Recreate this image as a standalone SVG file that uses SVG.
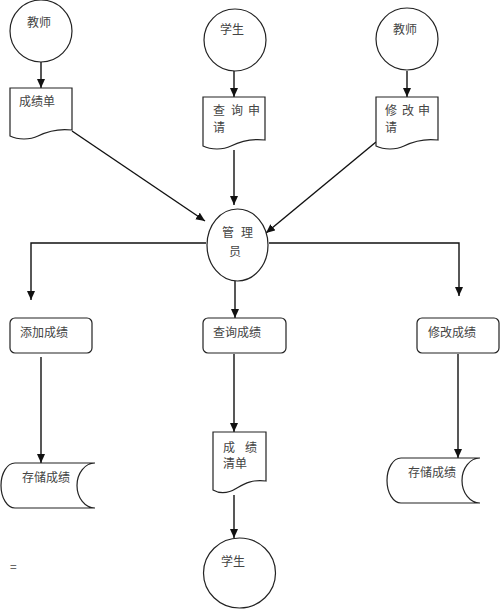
<svg xmlns="http://www.w3.org/2000/svg" width="500" height="610" viewBox="0 0 500 610">
<style>
.s{fill:#fff;stroke:#222;stroke-width:1.2}
.c{fill:none;stroke:#111;stroke-width:1.4}
text{font-family:"Noto Sans CJK SC","Liberation Serif",serif;font-size:12px;fill:#444}
</style>
<defs>
<marker id="a" markerUnits="userSpaceOnUse" markerWidth="10" markerHeight="10" refX="9" refY="4" orient="auto">
<path d="M0,0 L9,4 L0,8 Z" fill="#111"/>
</marker>
</defs>
<rect width="500" height="610" fill="#fff"/>
<g id="connectors">
<line class="c" x1="41" y1="62" x2="41" y2="88" marker-end="url(#a)"/>
<line class="c" x1="234" y1="71" x2="234" y2="97" marker-end="url(#a)"/>
<line class="c" x1="407" y1="71" x2="407" y2="97" marker-end="url(#a)"/>
<line class="c" x1="72" y1="131" x2="205" y2="221" marker-end="url(#a)"/>
<line class="c" x1="234" y1="150" x2="234" y2="205" marker-end="url(#a)"/>
<line class="c" x1="376" y1="142" x2="266" y2="233" marker-end="url(#a)"/>
<polyline class="c" points="206,243 31,243 31,300" marker-end="url(#a)"/>
<polyline class="c" points="269,243 459,243 459,296" marker-end="url(#a)"/>
<line class="c" x1="235" y1="281" x2="235" y2="318" marker-end="url(#a)"/>
<line class="c" x1="41" y1="357" x2="41" y2="463" marker-end="url(#a)"/>
<line class="c" x1="234" y1="354" x2="234" y2="432" marker-end="url(#a)"/>
<line class="c" x1="458" y1="354" x2="458" y2="458" marker-end="url(#a)"/>
<line class="c" x1="234" y1="495" x2="234" y2="538" marker-end="url(#a)"/>
</g>
<g id="teacher1">
<circle class="s" cx="41" cy="31" r="31"/>
<text x="27" y="27">教师</text>
</g>
<g id="student1">
<circle class="s" cx="235" cy="40" r="31"/>
<text x="220" y="34">学生</text>
</g>
<g id="teacher2">
<circle class="s" cx="407" cy="39" r="31"/>
<text x="393" y="34">教师</text>
</g>
<g id="doc-grades">
<path class="s" d="M10,88 H72 V130 C56,128 46,132 38,136 C30,140 18,140 10,136 Z"/>
<text x="19" y="106">成绩单</text>
</g>
<g id="doc-query">
<path class="s" d="M203,97 H265 V140 C249,138 239,142 231,146 C223,150 211,150 203,146 Z"/>
<text x="213 231 248" y="115">查询申</text>
<text x="213" y="132">请</text>
</g>
<g id="doc-modify">
<path class="s" d="M376,97 H438 V140 C422,138 412,142 404,146 C396,150 384,150 376,146 Z"/>
<text x="385 402 418" y="115">修改申</text>
<text x="385" y="132">请</text>
</g>
<g id="manager">
<ellipse class="s" cx="237.5" cy="245" rx="30.5" ry="36"/>
<text x="222 241" y="237">管理</text>
<text x="229" y="256">员</text>
</g>
<g id="proc-add">
<rect class="s" x="10" y="318" width="82" height="35" rx="5"/>
<text x="20" y="337">添加成绩</text>
</g>
<g id="proc-query">
<rect class="s" x="203" y="318" width="83" height="35" rx="5"/>
<text x="213" y="337">查询成绩</text>
</g>
<g id="proc-modify">
<rect class="s" x="417" y="318" width="82" height="35" rx="5"/>
<text x="428" y="337">修改成绩</text>
</g>
<g id="store-left">
<path class="s" d="M15,463 H95 A18,22.5 0 0 0 95,508 H15 A14,22.5 0 0 1 15,463 Z"/>
<text x="22" y="482">存储成绩</text>
</g>
<g id="doc-list">
<path class="s" d="M213,432 H266 V481 C252,479 244,484 237,488 C229,493 220,494 213,490 Z"/>
<text x="223 245" y="452">成绩</text>
<text x="223" y="468">清单</text>
</g>
<g id="store-right">
<path class="s" d="M401,458 H480 A18,22.5 0 0 0 480,503 H401 A14,22.5 0 0 1 401,458 Z"/>
<text x="408" y="477">存储成绩</text>
</g>
<g id="student2">
<ellipse class="s" cx="239.5" cy="573" rx="36" ry="35"/>
<text x="221" y="566">学生</text>
</g>
<text x="10" y="571">=</text>
</svg>
